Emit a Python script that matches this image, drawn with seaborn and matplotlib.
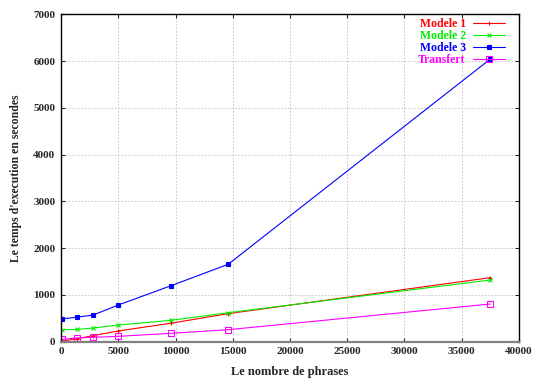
import matplotlib
matplotlib.use("Agg")
import matplotlib.pyplot as plt
import seaborn as sns
import pandas as pd

phrases = [50, 1400, 2800, 5000, 9600, 14600, 37500]
modele1 = [10, 65, 130, 230, 395, 600, 1370]
modele2 = [258, 262, 293, 357, 457, 620, 1320]
modele3 = [485, 525, 570, 785, 1197, 1655, 6045]
transfert = [50, 79, 94, 115, 179, 257, 806]

series_names = ["Modele 1", "Modele 2", "Modele 3", "Transfert"]
series_values = [modele1, modele2, modele3, transfert]
colors = ["#ff0000", "#00ee00", "#0000ff", "#ff00ff"]
markers = ["+", "x", "s", "s"]
fills = [True, True, True, False]

xticks = list(range(0, 40001, 5000))
yticks = list(range(0, 7001, 1000))

sns.set_style("ticks")
plt.rcParams['font.family'] = ['Liberation Serif', 'DejaVu Serif']
plt.rcParams['font.weight'] = 'bold'

fig = plt.figure(figsize=(5.4, 3.78), dpi=100)
ax = fig.add_axes([0.113, 0.096, 0.848, 0.866])

for name, vals, c, m, f in zip(series_names, series_values, colors, markers, fills):
    df = pd.DataFrame({"x": phrases, "y": vals})
    kw = dict(marker=m, markersize=3.5, markeredgewidth=0.8, markeredgecolor=c)
    if m == "s":
        kw["markerfacecolor"] = c if f else "none"
        kw["markersize"] = 3.3 if f else 4.3
    sns.lineplot(data=df, x="x", y="y", ax=ax, color=c, linewidth=0.8,
                 label=name, **kw)

ax.set_xlim(0, 40000)
ax.set_ylim(0, 7000)
ax.set_xticks(xticks)
ax.set_yticks(yticks)
ax.grid(True, color="#c0c0c0", linestyle=(0, (2, 2)), linewidth=0.6)
ax.tick_params(direction="in", top=True, right=True, length=3, width=0.8,
               labelsize=8, pad=4)
for lab in ax.get_xticklabels() + ax.get_yticklabels():
    lab.set_fontweight("bold")
for s in ax.spines.values():
    s.set_linewidth(1.0)
    s.set_color("black")
ax.spines["bottom"].set_color("#808080")
ax.spines["bottom"].set_linewidth(1.6)

ax.set_xlabel("Le nombre de phrases", fontsize=9, fontweight="bold", labelpad=7)
ax.set_ylabel("Le temps d'execution en secondes", fontsize=8.5, fontweight="bold", labelpad=8)

leg = ax.legend(loc="upper right", frameon=False, markerfirst=False,
                fontsize=8.5, handlelength=2.7, handletextpad=0.6,
                labelspacing=0.0, borderaxespad=0.0,
                bbox_to_anchor=(0.979, 1.003))
for t, c in zip(leg.get_texts(), colors):
    t.set_color(c)
    t.set_fontweight("bold")
for col in leg._legend_handle_box.get_children():
    col.align = "right"

fig.savefig("out.png", dpi=100)
